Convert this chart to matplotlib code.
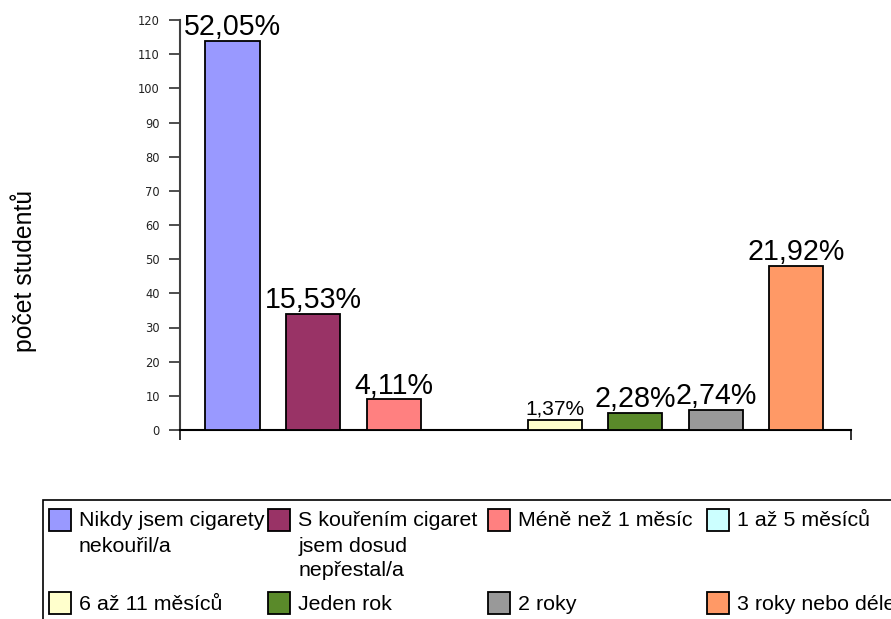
import matplotlib
matplotlib.use("Agg")
import matplotlib.pyplot as plt
from matplotlib.patches import Rectangle

categories = [
    "Nikdy jsem cigarety\nnekouřil/a",
    "S kouřením cigaret\njsem dosud\nnepřestal/a",
    "Méně než 1 měsíc",
    "1 až 5 měsíců",
    "6 až 11 měsíců",
    "Jeden rok",
    "2 roky",
    "3 roky nebo déle",
]
counts = [114, 34, 9, 0, 3, 5, 6, 48]
percents = [52.05, 15.53, 4.11, None, 1.37, 2.28, 2.74, 21.92]
colors = ["#9999FF", "#993366", "#FF8080", "#CCFFFF",
          "#FFFFCC", "#5A8A2A", "#999999", "#FF9966"]
yticks = list(range(0, 121, 10))
ylabel = "počet studentů"

W, H = 891, 619
fig = plt.figure(figsize=(W / 100, H / 100), dpi=100)
ax = fig.add_axes([180 / W, 1 - 430 / H, 671 / W, 410 / H])

x = list(range(len(categories)))
bars = ax.bar(x, counts, width=0.672, color=colors, edgecolor="black",
              linewidth=1.3, zorder=3)

ax.set_xlim(-0.652, 7.68)
ax.set_ylim(0, 120)
ax.set_yticks(yticks)
ax.tick_params(axis="y", direction="out", length=8, width=1.3,
               color="#404040", pad=6.5, labelsize=8.3, labelcolor="#222222")
ax.set_xticks(list(ax.get_xlim()))
ax.set_xticklabels([])
ax.tick_params(axis="x", direction="out", length=7.5, width=1.3,
               color="#222222")
for lab in ax.get_yticklabels():
    lab.set_family("DejaVu Sans")

ax.spines["top"].set_visible(False)
ax.spines["right"].set_visible(False)
ax.spines["left"].set_color("#404040")
ax.spines["left"].set_linewidth(1.5)
ax.spines["bottom"].set_color("black")
ax.spines["bottom"].set_linewidth(1.5)

# value labels
for xi, c, p in zip(x, counts, percents):
    if p is None:
        continue
    txt = f"{p:.2f}".replace(".", ",") + "%"
    fs = 15 if p < 2 else 20.6
    ax.annotate(txt, (xi, c), xytext=(0, 4), textcoords="offset points",
                ha="center", va="baseline", fontsize=fs,
                family="Liberation Sans", color="black")

fig.text(24 / W, 1 - 271 / H, ylabel, rotation=90, ha="center", va="center",
         fontsize=17.8, family="Liberation Sans", color="black")

# legend (manual, Excel-like layout)
frame = Rectangle((43 / W, -0.05), 1.2, (1 - 500 / H) + 0.05,
                  transform=fig.transFigure, facecolor="white",
                  edgecolor="black", linewidth=1.2, clip_on=False)
fig.add_artist(frame)
col_x = 49
col_step = 219.3
row_top = [509, 592]
sq = 22
for i, (lab, col) in enumerate(zip(categories, colors)):
    r, cidx = divmod(i, 4)
    x0 = col_x + cidx * col_step
    y0 = row_top[r]
    fig.add_artist(Rectangle((x0 / W, 1 - (y0 + sq) / H), sq / W, sq / H,
                             transform=fig.transFigure, facecolor=col,
                             edgecolor="black", linewidth=1.3))
    fig.text((x0 + 30) / W, 1 - (y0 + 2.5) / H, lab, ha="left", va="top",
             fontsize=15.4, family="Liberation Sans", linespacing=1.4,
             color="black")

fig.savefig("out.png", dpi=100)
